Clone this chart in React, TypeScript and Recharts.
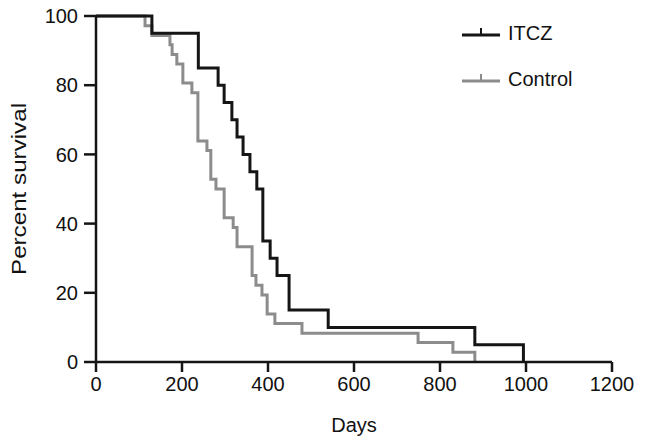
import { LineChart, Line, XAxis, YAxis } from "recharts";

// Kaplan-Meier steps (day of event, percent surviving after it)
const itczDays = [0, 130, 238, 284, 298, 316, 328, 342, 358, 374, 388, 405, 421, 449, 540, 881, 994];
const itczPct = [100, 95, 85, 80, 75, 70, 65, 60, 55, 50, 35, 30, 25, 15, 10, 5, 0];

const controlDays = [0, 114, 130, 172, 177, 188, 202, 223, 237, 258, 267, 279, 298, 319, 328, 363, 372, 386, 398, 416, 479, 749, 830, 881];
const controlPct = [100, 97.2, 94.4, 91.7, 88.9, 86.1, 80.6, 77.8, 63.9, 61.1, 52.8, 50, 41.7, 38.9, 33.3, 25, 22.2, 19.4, 13.9, 11.1, 8.3, 5.6, 2.8, 0];

const xTicks = [0, 200, 400, 600, 800, 1000, 1200];
const yTicks = [0, 20, 40, 60, 80, 100];

const itczData = itczDays.map((day, i) => ({ day, pct: itczPct[i] }));
const controlData = controlDays.map((day, i) => ({ day, pct: controlPct[i] }));

const BLACK = "#151515";
const GRAY = "#8c8c8c";
const FONT = "'Liberation Sans', Arial, sans-serif";

const legendItems = [
  { name: "ITCZ", color: BLACK },
  { name: "Control", color: GRAY }
];

function KmLegend() {
  return (
    <div style={{ position: "absolute", left: 460, top: 21, fontFamily: FONT }}>
      {legendItems.map((it, i) => (
        <div key={it.name} style={{ display: "flex", alignItems: "center", height: 24, marginBottom: i === 0 ? 22 : 0 }}>
          <svg width={44} height={24}>
            <line x1={2} y1={14} x2={40} y2={14} stroke={it.color} strokeWidth={3} />
            <line x1={21} y1={7} x2={21} y2={14} stroke={it.color} strokeWidth={2} />
          </svg>
          <span style={{ fontSize: 20, color: "#111", marginLeft: 4 }}>{it.name}</span>
        </div>
      ))}
    </div>
  );
}

function YTitle(props: any) {
  const vb = props.viewBox || {};
  const cy = vb.y + vb.height / 2;
  return (
    <text
      x={26}
      y={cy}
      transform={`rotate(-90 26 ${cy})`}
      textAnchor="middle"
      fill="#111"
      fontSize={21}
      fontFamily={FONT}
      textLength={172}
      lengthAdjust="spacingAndGlyphs"
    >
      Percent survival
    </text>
  );
}

export default function App() {
  return (
    <div style={{ position: "absolute", left: 0, top: 0, width: 646, height: 444, background: "#fff" }}>
      <LineChart width={646} height={444} margin={{ top: 16, right: 34, left: 0, bottom: 22 }}>
        <XAxis
          dataKey="day"
          type="number"
          domain={[0, 1200]}
          ticks={xTicks}
          allowDuplicatedCategory={false}
          height={60}
          tickSize={10}
          tickMargin={5}
          stroke={BLACK}
          strokeWidth={2.5}
          tick={{ fill: "#111", fontSize: 20, fontFamily: FONT }}
          label={{ value: "Days", position: "insideBottom", offset: -10, fill: "#111", fontSize: 20, fontFamily: FONT }}
        />
        <YAxis
          type="number"
          domain={[0, 100]}
          ticks={yTicks}
          width={96}
          tickSize={12}
          tickMargin={6}
          stroke={BLACK}
          strokeWidth={2.5}
          tick={{ fill: "#111", fontSize: 20, fontFamily: FONT }}
          label={<YTitle />}
        />
        <Line data={controlData} dataKey="pct" type="stepAfter" stroke={GRAY} strokeWidth={3} dot={false} isAnimationActive={false} />
        <Line data={itczData} dataKey="pct" type="stepAfter" stroke={BLACK} strokeWidth={3} dot={false} isAnimationActive={false} />
      </LineChart>
      <KmLegend />
    </div>
  );
}
